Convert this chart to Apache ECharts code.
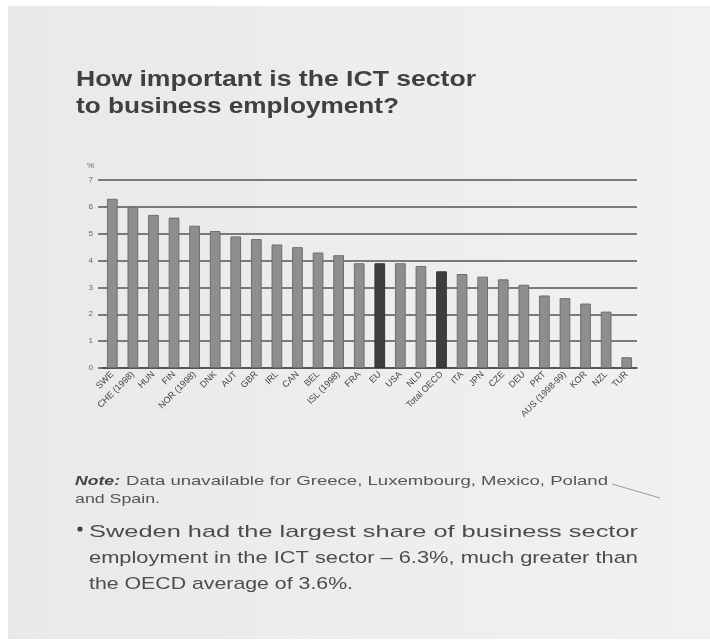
<!DOCTYPE html>
<html>
<head>
<meta charset="utf-8">
<script src="https://cdn.jsdelivr.net/npm/echarts@6/dist/echarts.min.js"></script>
<style>
  html, body { margin: 0; padding: 0; background: #ffffff; }
  #chart { width: 710px; height: 641px; }
</style>
</head>
<body>
<div id="chart"></div>
<script>
// ICT sector share of business sector employment, %
const categories = [
  'SWE', 'CHE (1998)', 'HUN', 'FIN', 'NOR (1998)', 'DNK', 'AUT', 'GBR', 'IRL',
  'CAN', 'BEL', 'ISL (1998)', 'FRA', 'EU', 'USA', 'NLD', 'Total OECD', 'ITA',
  'JPN', 'CZE', 'DEU', 'PRT', 'AUS (1998-99)', 'KOR', 'NZL', 'TUR'
];
const shares = [
  6.3, 6.0, 5.7, 5.6, 5.3, 5.1, 4.9, 4.8, 4.6,
  4.5, 4.3, 4.2, 3.9, 3.9, 3.9, 3.8, 3.6, 3.5,
  3.4, 3.3, 3.1, 2.7, 2.6, 2.4, 2.1, 0.4
];
const aggregates = ['EU', 'Total OECD'];
const yTicks = [0, 1, 2, 3, 4, 5, 6, 7];

const titleLines = ['How important is the ICT sector', 'to business employment?'];
const noteLines = ['Data unavailable for Greece, Luxembourg, Mexico, Poland', 'and Spain.'];
const bulletLines = [
  'Sweden had the largest share of business sector',
  'employment in the ICT sector \u2013 6.3%, much greater than',
  'the OECD average of 3.6%.'
];

// horizontal stretch so a line of text spans a given width
const measureCtx = document.createElement('canvas').getContext('2d');
function stretch(text, font, width) {
  measureCtx.font = font;
  return width / measureCtx.measureText(text).width;
}

const FONT = 'Liberation Sans, Arial, sans-serif';

function textLine(text, x, y, font, color, width) {
  return {
    type: 'text', x: x, y: y, scaleX: stretch(text, font, width),
    style: { text: text, font: font, fill: color, textVerticalAlign: 'middle' }
  };
}

const graphics = [
  {
    type: 'rect', z: -10, silent: true,
    shape: { x: 8, y: 6, width: 702, height: 633 },
    style: {
      fill: new echarts.graphic.LinearGradient(0, 0, 1, 0, [
        { offset: 0, color: '#e9e9e9' }, { offset: 1, color: '#f1f1f1' }
      ])
    }
  },
  textLine(titleLines[0], 76, 80, 'bold 22px ' + FONT, '#404040', 400),
  textLine(titleLines[1], 76, 107, 'bold 22px ' + FONT, '#404040', 323),
  textLine('Note:', 75, 481, 'italic bold 13px ' + FONT, '#444', 45),
  textLine(noteLines[0], 126, 481, '13px ' + FONT, '#555', 482),
  textLine(noteLines[1], 75, 499, '13px ' + FONT, '#555', 85),
  {
    type: 'circle', shape: { cx: 80, cy: 529, r: 2.6 }, style: { fill: '#444' }
  },
  textLine(bulletLines[0], 89, 532, '17px ' + FONT, '#4c4c4c', 549),
  textLine(bulletLines[1], 89, 558, '17px ' + FONT, '#4c4c4c', 549),
  textLine(bulletLines[2], 89, 584, '17px ' + FONT, '#4c4c4c', 264),
  {
    type: 'line', shape: { x1: 612, y1: 484, x2: 660, y2: 498 },
    style: { stroke: '#9a9a9a', lineWidth: 1 }
  }
];

const chart = echarts.init(document.getElementById('chart'), null, { renderer: 'canvas' });
chart.setOption({
  backgroundColor: '#ffffff',
  animation: false,
  graphic: graphics,
  grid: { left: 102, right: 73, top: 180, bottom: 273, containLabel: false },
  xAxis: {
    type: 'category',
    data: categories,
    axisLine: { show: true, lineStyle: { color: '#4a4a4a', width: 1.5 } },
    axisTick: { show: false },
    axisLabel: {
      rotate: 45, fontSize: 9, color: '#444', margin: 5, interval: 0,
      fontFamily: FONT
    }
  },
  yAxis: {
    type: 'value',
    min: yTicks[0], max: yTicks[yTicks.length - 1], interval: 1,
    name: '%', nameLocation: 'end', nameGap: 10,
    nameTextStyle: { fontSize: 8, color: '#666', align: 'right', padding: [0, 8, 0, 0] },
    axisLine: { show: false },
    axisTick: { show: true, length: 4, lineStyle: { color: '#555', width: 1.5 } },
    axisLabel: { fontSize: 8, color: '#666', margin: 9, fontFamily: FONT },
    splitLine: { show: true, lineStyle: { color: '#555', width: 1.5 } }
  },
  series: [{
    type: 'bar',
    barWidth: '52%',
    data: shares.map(function (v, i) {
      const dark = aggregates.indexOf(categories[i]) >= 0;
      return {
        value: v,
        itemStyle: {
          color: dark ? '#3d3d3d' : '#8e8e8e',
          borderColor: dark ? '#333' : '#6e6e6e',
          borderWidth: 1
        }
      };
    })
  }]
});
</script>
</body>
</html>
